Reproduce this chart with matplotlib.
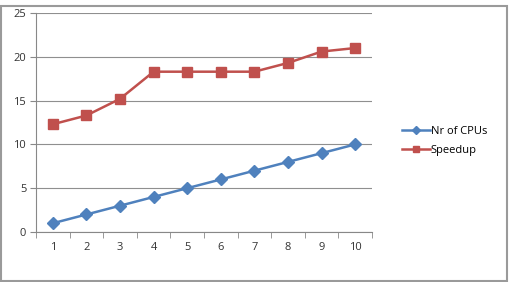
import matplotlib.pyplot as plt
from matplotlib.patches import Rectangle

# data
cpus = [1, 2, 3, 4, 5, 6, 7, 8, 9, 10]
nr_cpus = [1, 2, 3, 4, 5, 6, 7, 8, 9, 10]
speedup = [12.3, 13.3, 15.2, 18.3, 18.3, 18.3, 18.3, 19.3, 20.6, 21.0]
yticks = [0, 5, 10, 15, 20, 25]

plt.rcParams['font.family'] = ['Open Sans', 'DejaVu Sans']

W, H = 510, 282
fig = plt.figure(figsize=(W / 100, H / 100), dpi=100)
fig.patches.append(Rectangle((1.5 / W, 1.5 / H), 506 / W, 275 / H,
                             transform=fig.transFigure, fill=False,
                             edgecolor='#9a9a9a', linewidth=1.5))

ax = fig.add_axes([36 / W, (H - 232) / H, (372 - 36) / W, (232 - 13) / H])
x = range(len(cpus))
ax.plot(x, nr_cpus, color='#4F81BD', marker='D', markersize=6, linewidth=1.8,
        label='Nr of CPUs')
ax.plot(x, speedup, color='#C0504D', marker='s', markersize=7, linewidth=1.8,
        label='Speedup')

ax.set_xlim(-0.5, len(cpus) - 0.5)
ax.set_ylim(0, 25)
ax.set_yticks(yticks)
ax.set_xticks(list(x))
ax.set_xticklabels([str(c) for c in cpus])
ax.set_xticks([i - 0.5 for i in range(len(cpus) + 1)], minor=True)
ax.tick_params(axis='x', which='major', length=0, pad=7, labelsize=8, colors='#333333')
ax.tick_params(axis='x', which='minor', length=4, color='#888888')
ax.tick_params(axis='y', length=4, color='#888888', labelsize=8, pad=3)
ax.tick_params(axis='y', colors='#888888', labelcolor='#333333')
ax.grid(axis='y', color='#8f8f8f', linewidth=0.8)
ax.set_axisbelow(True)
for s in ['top', 'right']:
    ax.spines[s].set_visible(False)
for s in ['left', 'bottom']:
    ax.spines[s].set_color('#888888')
    ax.spines[s].set_linewidth(0.8)

fig.legend(loc='center left', bbox_to_anchor=(392 / W, 1 - 141 / H),
           frameon=False, fontsize=8, handlelength=2.5, labelspacing=0.7,
           handletextpad=0.1, markerscale=0.65)

plt.savefig('out.png', dpi=100)
